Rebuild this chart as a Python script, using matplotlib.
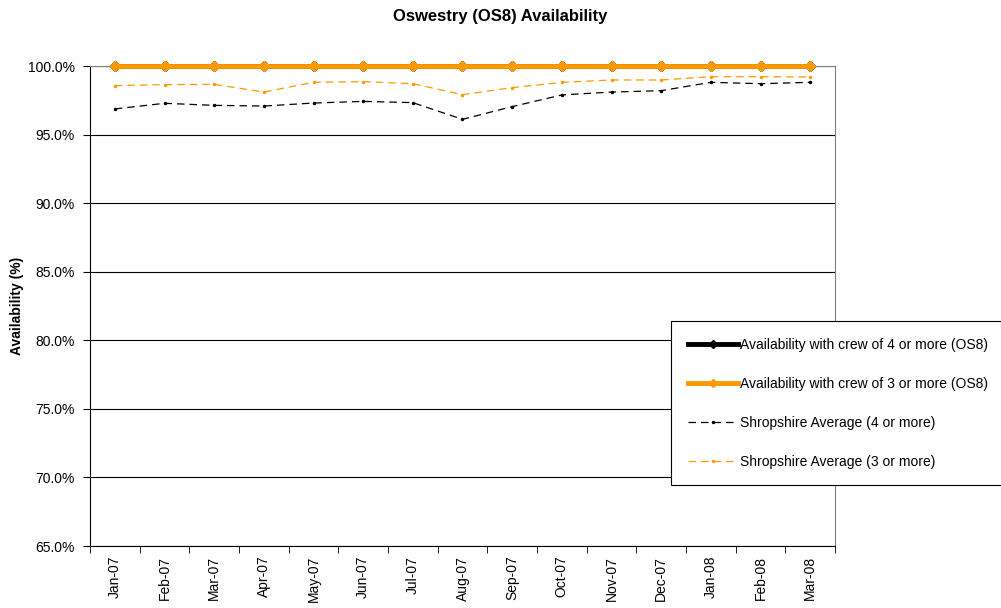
import matplotlib
matplotlib.use("Agg")
import matplotlib.pyplot as plt
from matplotlib.lines import Line2D

plt.rcParams['font.family'] = ['Liberation Sans', 'DejaVu Sans']

months = ['Jan-07', 'Feb-07', 'Mar-07', 'Apr-07', 'May-07', 'Jun-07', 'Jul-07',
          'Aug-07', 'Sep-07', 'Oct-07', 'Nov-07', 'Dec-07', 'Jan-08', 'Feb-08', 'Mar-08']
crew4_os8 = [100.0] * 15
crew3_os8 = [100.0] * 15
shrop_avg4 = [96.87, 97.28, 97.13, 97.08, 97.30, 97.42, 97.33, 96.11,
              97.04, 97.89, 98.10, 98.20, 98.81, 98.71, 98.81]
shrop_avg3 = [98.57, 98.64, 98.66, 98.10, 98.81, 98.86, 98.71, 97.91,
              98.42, 98.81, 98.98, 98.98, 99.22, 99.22, 99.20]

orange = '#FF9900'

fig = plt.figure(figsize=(10.01, 6.08), dpi=100)
ax = fig.add_axes([90 / 1001, 62 / 608, 745 / 1001, 480 / 608])

x = list(range(len(months)))
ax.plot(x, shrop_avg4, color='black', lw=0.9, dashes=(6, 4), marker='.', ms=3,
        zorder=3)
ax.plot(x, shrop_avg3, color=orange, lw=0.9, dashes=(6, 4), marker='.', ms=3,
        zorder=3)
ax.plot(x, crew4_os8, color='black', lw=3.5, marker='D', ms=5, zorder=4,
        clip_on=False)
ax.plot(x, crew3_os8, color=orange, lw=3.5, marker='D', ms=5, zorder=5,
        clip_on=False)

ax.set_xlim(-0.5, len(months) - 0.5)
ax.set_ylim(65, 100)
ax.set_yticks([65, 70, 75, 80, 85, 90, 95, 100])
ax.set_yticklabels(['%.1f%%' % v for v in ax.get_yticks()], fontsize=10)
ax.set_xticks(x)
ax.set_xticklabels(months, rotation=90, fontsize=10)
ax.set_xticks([i - 0.5 for i in range(len(months) + 1)], minor=True)
ax.tick_params(axis='x', which='major', length=0, pad=7)
ax.tick_params(axis='x', which='minor', length=5, direction='out')
ax.tick_params(axis='y', length=5, direction='out', pad=6)
ax.grid(axis='y', color='black', lw=0.8)
ax.set_axisbelow(True)

for side in ['top', 'right']:
    ax.spines[side].set_color('#808080')
for side in ['left', 'bottom']:
    ax.spines[side].set_color('black')

ax.set_ylabel('Availability (%)', fontsize=10, fontweight='bold', labelpad=3)
fig.text(0.5, 1 - 17 / 608, 'Oswestry (OS8) Availability', ha='center', va='center',
         fontsize=12, fontweight='bold')

handles = [
    Line2D([], [], color='black', lw=3.5, marker='D', ms=4),
    Line2D([], [], color=orange, lw=3.5, marker='D', ms=4),
    Line2D([], [], color='black', lw=0.9, dashes=(6, 4), marker='.', ms=3),
    Line2D([], [], color=orange, lw=0.9, dashes=(6, 4), marker='.', ms=3),
]
labels = ['Availability with crew of 4 or more (OS8)',
          'Availability with crew of 3 or more (OS8)',
          'Shropshire Average (4 or more)',
          'Shropshire Average (3 or more)']
leg = fig.legend(handles, labels, loc='upper left',
                 bbox_to_anchor=(671 / 1001, 1 - 321 / 608), fontsize=10,
                 frameon=True, fancybox=False, edgecolor='black', framealpha=1,
                 handlelength=3.6, handletextpad=0.2, labelspacing=1.8,
                 borderpad=1.2, borderaxespad=0)
leg.get_frame().set_linewidth(0.8)

fig.savefig('out.png', dpi=100)
